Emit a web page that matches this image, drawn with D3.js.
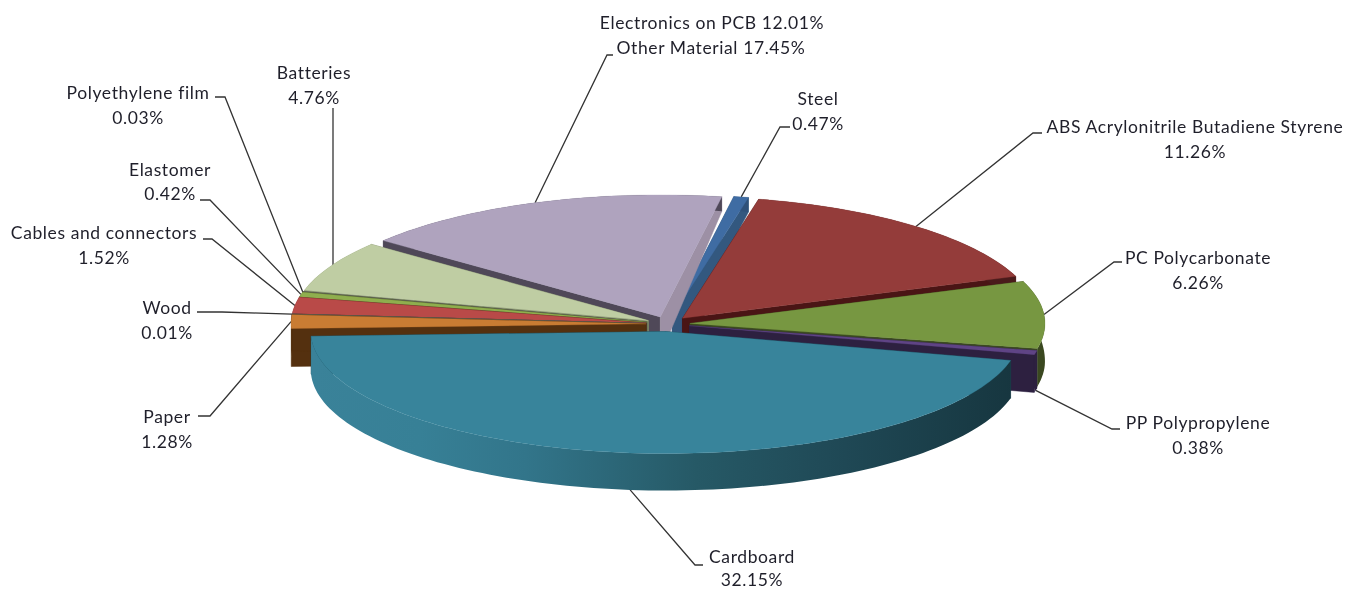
<!DOCTYPE html>
<html><head><meta charset="utf-8">
<style>html,body{margin:0;padding:0;background:#fff}svg{display:block;filter:blur(0.35px)}text{font-family:Lato,"Open Sans",sans-serif;font-size:17.5px;letter-spacing:0.6px;fill:#1f1f2a}</style>
<script src="https://cdnjs.cloudflare.com/ajax/libs/d3/7.8.5/d3.min.js"></script>
</head><body><svg id="c" width="1346" height="590"></svg>
<script>
// data: clockwise from the top of the pie
const categories = ["Steel","ABS Acrylonitrile Butadiene Styrene","PC Polycarbonate","PP Polypropylene","Cardboard","Paper","Wood","Cables and connectors","Elastomer","Polyethylene film","Batteries","Electronics on PCB"];
const values = [0.47,11.26,6.26,0.38,32.15,1.28,0.01,1.52,0.42,0.03,4.76,12.01];
const labelOnlyCategories = ["Other Material"];
const labelOnlyValues = [17.45];

// styles
const topColors  = ["#3F6CA3","#943C3A","#779741","#5F4485","#38849B","#C97C33","#5A5A50","#B94A48","#8FAE4E","#5A5A50","#BFCDA3","#AFA3BE"];
const rimColors  = ["#2F5179","#4A1B1B","#3A4820","#2D2040","url(#cardRim)","#54300F","#444","#6E2A29","#4E6129","#444","#7E8A68","#4F4858"];
const startWallColors = ["#2F5179","#4A1515","#3A4820","#2D2040","#1B4350","#54300F","#444","#6E2A29","#4E6129","#444","#7E8A68","#4F4858"];
const endWallColors   = ["#33587F","#4A1515","#3A4820","#2D2040","#163A45","#54300F","#444","#6E2A29","#4E6129","#444","#7E8A68","#9D90A5"];

// layout
const width = 1346, height = 590;
const cx = 668, cy = 324, rx = 355, ry = 122, explode = 0.062, startDeg = 10;
const leaderLayout = [
  {c:"Steel", pts:[[780,127],[790,127]], tx:818, ty:[98,123]},
  {c:"ABS Acrylonitrile Butadiene Styrene", pts:[[1033,133],[1042,133]], tx:1195, ty:[126,151]},
  {c:"PC Polycarbonate", pts:[[1114,262],[1122,262]], tx:1198, ty:[257,282]},
  {c:"PP Polypropylene", pts:[[1112,429],[1120,429]], tx:1198, ty:[422,447]},
  {c:"Cardboard", pts:[[695,565],[703,565]], tx:752, ty:[556,579]},
  {c:"Paper", pts:[[210,416],[198,416]], tx:167, ty:[416,441]},
  {c:"Wood", pts:[[222,312],[197,312]], tx:167, ty:[307,332]},
  {c:"Cables and connectors", pts:[[212,239],[203,239]], tx:104, ty:[232,257]},
  {c:"Elastomer", pts:[[210,200],[200,200]], tx:170, ty:[169,193]},
  {c:"Polyethylene film", pts:[[225,97],[215,97]], tx:138, ty:[92,117]},
  {c:"Batteries", sx:333, pts:[[333,108]], tx:314, ty:[72,97]},
  {c:"Electronics on PCB", pts:[[607,55],[613,55]], tx:712, ty:[22], inline:true}
];
const labelOnlyLayout = [{c:"Other Material", tx:711, ty:47}];

const rad = Math.PI/180;
const xU = d3.scaleLinear().domain([-1,1]).range([cx-rx,cx+rx]);
const yU = d3.scaleLinear().domain([-1,1]).range([cy-ry,cy+ry]);
const depthAt = d3.scaleLinear().domain([-1,0,1]).range([14,38,37]);
const pct = v => v.toFixed(2)+"%";

const arcs = d3.pie().value(d=>d.v).sort(null)
  .startAngle(startDeg*rad).endAngle((startDeg+360)*rad)(categories.map((c,i)=>({c,v:values[i],i})));

arcs.forEach(a=>{a.mid=(a.startAngle+a.endAngle)/2;});
const pt = (a,ang,r,low=false)=>{
  const u=-r*Math.cos(ang);
  return [xU(r*Math.sin(ang)+explode*Math.sin(a.mid)),
          yU(u-explode*Math.cos(a.mid))+(low?depthAt(u):0)];
};
const line = d3.line();
const arcPts = (a,low)=>{
  const from=a.startAngle,to=a.endAngle;
  const n = Math.max(2,Math.ceil((to-from)/(1.5*rad)));
  return d3.range(n+1).map(i=>pt(a,from+(to-from)*i/n,1,low));
};

const svg = d3.select("#c");
const defs = svg.append("defs");
const g = defs.append("linearGradient").attr("id","cardRim").attr("gradientUnits","userSpaceOnUse")
  .attr("x1",xU(-1)).attr("x2",xU(1)).attr("y1",0).attr("y2",0);
[[0,"#3A8299"],[0.15,"#378096"],[0.3,"#32758A"],[0.54,"#265966"],[0.75,"#1F4855"],[1,"#16353E"]].forEach(s=>g.append("stop").attr("offset",s[0]).attr("stop-color",s[1]));

const gLead = svg.append("g").attr("fill","none").attr("stroke","#333").attr("stroke-width",1.3);
const gPie = svg.append("g");

// back to front
arcs.slice().sort((p,q)=>Math.cos(q.mid)-Math.cos(p.mid)).forEach(a=>{
  const i=a.data.i, s=gPie.append("g");
  const apex=pt(a,0,0), apexB=pt(a,0,0,true);
  const wall=(ang,col)=>s.append("path").attr("fill",col).attr("stroke",col).attr("stroke-width",0.5)
    .attr("d",line([apex,pt(a,ang,1),pt(a,ang,1,true),apexB])+"Z");
  wall(a.startAngle,startWallColors[i]);
  wall(a.endAngle,endWallColors[i]);
  s.append("path").attr("fill",rimColors[i])
    .attr("d",line(arcPts(a,false).concat(arcPts(a,true).reverse()))+"Z");
  s.append("path").attr("fill",topColors[i]).attr("stroke",topColors[i]).attr("stroke-width",a.endAngle-a.startAngle<1*rad?0.8:0.3)
    .attr("d",line([apex].concat(arcPts(a,false)))+"Z");
});

// leaders and labels
const gText = svg.append("g").attr("text-anchor","middle").attr("dominant-baseline","central");
leaderLayout.forEach(l=>{
  const a=arcs.find(d=>d.data.c===l.c);
  const st=pt(a,a.mid,1,Math.cos(a.mid)<0);
  if(l.sx!==undefined) st[0]=l.sx;
  gLead.append("path").attr("d",line([st].concat(l.pts)));
  if(l.inline){
    gText.append("text").attr("x",l.tx).attr("y",l.ty[0]).text(l.c+" "+pct(a.data.v));
  } else {
    gText.append("text").attr("x",l.tx).attr("y",l.ty[0]).text(l.c);
    gText.append("text").attr("x",l.tx).attr("y",l.ty[1]).text(pct(a.data.v));
  }
});
labelOnlyLayout.forEach(l=>{
  const k=labelOnlyCategories.indexOf(l.c);
  gText.append("text").attr("x",l.tx).attr("y",l.ty).text(l.c+" "+pct(labelOnlyValues[k]));
});
</script></body></html>
